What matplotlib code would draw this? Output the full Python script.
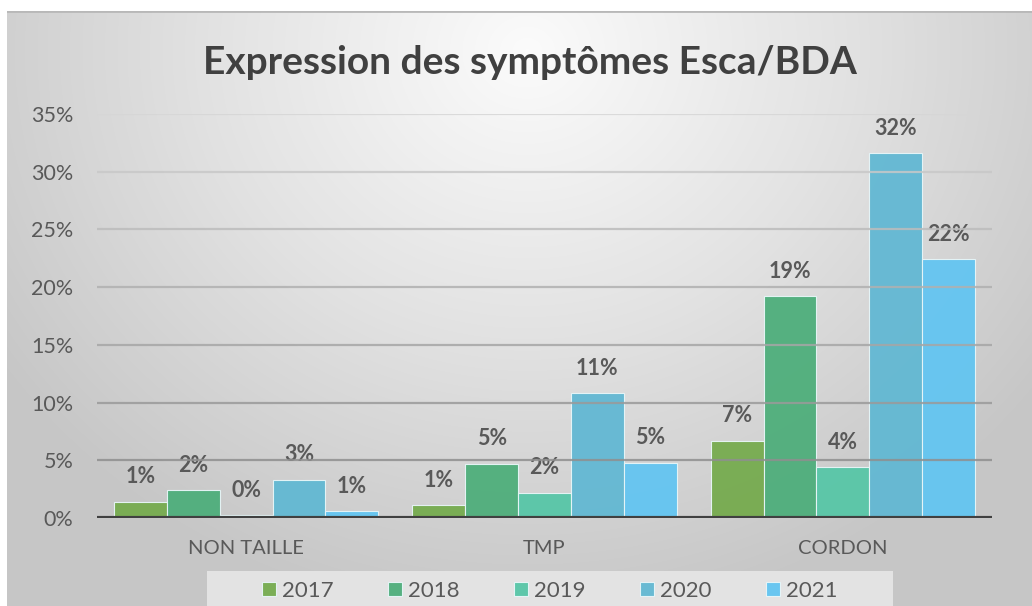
import numpy as np
import matplotlib.pyplot as plt
from matplotlib.colors import LinearSegmentedColormap
from matplotlib.patches import Rectangle

plt.rcParams['font.family'] = ['Lato', 'DejaVu Sans']

# data (percent)
categories = ["NON TAILLE", "TMP", "CORDON"]
years = ["2017", "2018", "2019", "2020", "2021"]
v2017 = [1.4, 1.1, 6.7]
v2018 = [2.4, 4.7, 19.2]
v2019 = [0.25, 2.2, 4.4]
v2020 = [3.3, 10.8, 31.6]
v2021 = [0.6, 4.8, 22.4]
series = [v2017, v2018, v2019, v2020, v2021]
colors = ["#76ab4e", "#4eae7b", "#57c6a7", "#62b8d3", "#63c5f1"]

W, H = 1032, 606
fig = plt.figure(figsize=(W / 100, H / 100), dpi=100)

# radial gradient background (chart area starts a few px in from left/top)
bg = fig.add_axes([7 / W, 0, 1 - 7 / W, 1 - 11 / H], zorder=-10)
yy, xx = np.mgrid[0:595, 0:1025]
d = np.hypot((xx - 520) / 1.0, (yy - 40) / 0.9)
d = np.clip(d / 640, 0, 1)
cmap = LinearSegmentedColormap.from_list("bg", ["#fbfbfb", "#e2e2e2", "#c6c6c6"])
bg.imshow(d, cmap=cmap, aspect="auto", extent=[0, 1, 0, 1], vmin=0, vmax=1)
bg.axhline(1, color="#b8b8b8", lw=2)
bg.set_axis_off()

ax = fig.add_axes([97 / W, 1 - 518 / H, (992 - 97) / W, (518 - 114) / H])
ax.set_facecolor("none")

n = len(series)
group = 0.886
bw = group / n
x = np.arange(len(categories))
for i, (vals, c, yr) in enumerate(zip(series, colors, years)):
    pos = x - group / 2 + bw * (i + 0.5)
    bars = ax.bar(pos, vals, width=bw, color=c, edgecolor="#e8f6f8", linewidth=0.8,
                  label=yr, zorder=2, alpha=0.95)
    for b, v in zip(bars, vals):
        ax.annotate(f"{round(v):d}%", (b.get_x() + b.get_width() / 2, v),
                    xytext=(0, 18), textcoords="offset points", ha="center",
                    va="center", fontsize=15.5, fontweight="bold", color="#595959")

# gridlines, darker toward the bottom like the reference
grid_cols = ["#8f8f8f", "#9a9a9a", "#a6a6a6", "#b0b0b0", "#bcbcbc", "#c8c8c8", "#d6d6d6"]
for k, gc in zip(range(5, 40, 5), grid_cols):
    ax.axhline(k, color=gc, lw=1.6, zorder=3, alpha=0.85)
ax.axhline(0, color="#404040", lw=3, zorder=4)

ax.set_xlim(-0.5, 2.5)
ax.set_ylim(0, 35)
ax.set_yticks(range(0, 40, 5))
ax.set_yticklabels([f"{k}%" for k in range(0, 40, 5)])
ax.set_xticks(x)
ax.set_xticklabels(categories)
ax.tick_params(axis="both", length=0, labelsize=15.5, labelcolor="#595959")
ax.tick_params(axis="x", labelsize=14.5, pad=16)
ax.tick_params(axis="y", pad=17)
for s in ax.spines.values():
    s.set_visible(False)

fig.text(530 / W, 1 - 62 / H, "Expression des symptômes Esca/BDA", ha="center",
         va="center", fontsize=28, fontweight="bold", color="#404040")

# legend band
fig.patches.append(Rectangle((207 / W, 0), (893 - 207) / W, (606 - 571) / H,
                             transform=fig.transFigure, facecolor="#e3e3e3",
                             edgecolor="none", zorder=-5))
leg = fig.legend(loc="center", bbox_to_anchor=(550 / W, 1 - 591 / H), ncol=5,
                 frameon=False, fontsize=16, handlelength=0.6,
                 handleheight=0.6, handletextpad=0.3, columnspacing=2.45,
                 labelcolor="#595959")

fig.savefig("out.png", dpi=100, facecolor="white")
